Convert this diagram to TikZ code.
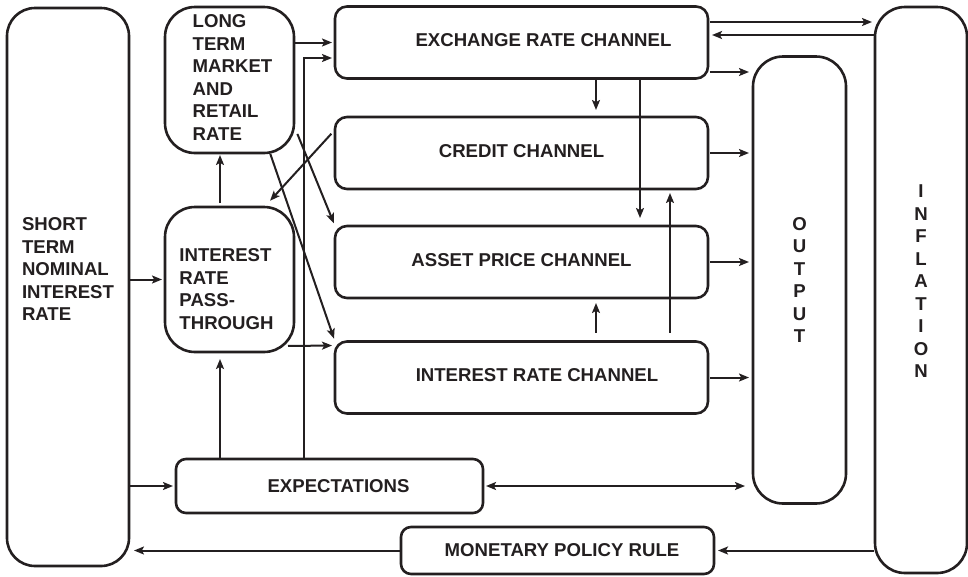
\documentclass[tikz,border=0pt]{standalone}
\usepackage{fontspec}
\setmainfont{Liberation Sans}
\usetikzlibrary{arrows.meta}
\definecolor{ink}{RGB}{35,31,32}
\tikzset{
	box/.style={draw, line width=2.6pt, inner sep=0pt, outer sep=0pt},
	chan/.style={box, rounded corners=12pt, minimum width=373pt, minimum height=72pt},
	lbl/.style={font=\bfseries\fontsize{18.6}{22.5}\selectfont, align=left, inner sep=0pt},
	arr/.style={line width=2pt, ->, shorten <=1pt, shorten >=3pt},
	>={Stealth[length=10pt,width=8pt,inset=2.2pt]}
}
\begin{document}
\begin{tikzpicture}[x=1pt,y=-1pt,color=ink]
	\useasboundingbox (0,0) rectangle (968,576);
	\node[box, rounded corners=28pt, minimum width=122pt, minimum height=558pt,
		label={[lbl, yshift=18pt]center:SHORT\\TERM\\NOMINAL\\INTEREST\\RATE}] (stn) at (68,287) {};
	\node[box, rounded corners=30pt, minimum width=129pt, minimum height=146pt,
		label={[lbl, xshift=3pt, yshift=2.5pt]center:LONG\\TERM\\MARKET\\AND\\RETAIL\\RATE}] (ltr) at (229.5,80) {};
	\node[box, rounded corners=30pt, minimum width=129pt, minimum height=145pt,
		label={[lbl, xshift=-3pt, yshift=-9.5pt]center:INTEREST\\RATE\\PASS-\\THROUGH}] (irpt) at (229.5,279.5) {};
	\node[chan, label={[lbl, xshift=22pt, yshift=2.5pt]center:EXCHANGE RATE CHANNEL}] (erc) at (521.5,42.5) {};
	\node[chan, label={[lbl, yshift=2pt]center:CREDIT CHANNEL}] (cc) at (521.5,153) {};
	\node[chan, label={[lbl, yshift=2pt]center:ASSET PRICE CHANNEL}] (apc) at (521.5,262) {};
	\node[chan, label={[lbl, xshift=15.5pt, yshift=2.5pt]center:INTEREST RATE CHANNEL}] (irc) at (521.5,377.5) {};
	\node[box, rounded corners=30pt, minimum width=93pt, minimum height=447pt,
		label={[lbl, align=center]center:O\\U\\T\\P\\U\\T}] (out) at (799.5,280) {};
	\node[box, rounded corners=30pt, minimum width=92pt, minimum height=566pt,
		label={[lbl, align=center, yshift=8.5pt]center:I\\N\\F\\L\\A\\T\\I\\O\\N}] (inf) at (921,290) {};
	\node[box, rounded corners=10pt, minimum width=307pt, minimum height=54pt,
		label={[lbl, xshift=9pt]center:EXPECTATIONS}] (exp) at (329.5,486) {};
	\node[box, rounded corners=10pt, minimum width=313pt, minimum height=47pt,
		label={[lbl, xshift=4.5pt]center:MONETARY POLICY RULE}] (mpr) at (557.5,550.5) {};

	\draw[arr] (stn.east |- irpt.west) -- (irpt.west);
	\draw[arr] (stn.east |- exp.west) -- (exp.west);
	\draw[arr, shorten <=4pt, shorten >=2pt] ([xshift=-9.5pt]irpt.north) -- ([xshift=-9.5pt]ltr.south);
	\draw[arr, shorten >=7pt] ([xshift=-109.5pt]exp.north) -- ([xshift=-9.5pt]irpt.south);
	\draw[arr] ([xshift=-25.5pt]exp.north) |- ([yshift=-15.5pt]erc.west);
	\draw[arr] (ltr.east |- erc.west) -- (erc.west);
	\draw[arr] ([shift={(3,-20)}]ltr.south east) -- (apc.north west);
	\draw[arr] ([xshift=40.5pt]ltr.south) -- (irc.north west);
	\draw[arr] ([shift={(-3,-20)}]cc.west) -- ([shift={(38.5,-4)}]irpt.north);
	\draw[arr, shorten >=1pt] ([shift={(-7,-6)}]irpt.south east) -- ([shift={(-2,4)}]irc.north west);

	\draw[arr, shorten >=7pt] ([xshift=74.5pt]erc.south) -- ([xshift=74.5pt]cc.north);
	\draw[arr, shorten >=8pt] ([xshift=118.5pt]erc.south) -- ([xshift=118.5pt]apc.north);
	\draw[arr, shorten <=9pt, shorten >=4pt] ([xshift=148.5pt]irc.north) -- ([xshift=148.5pt]cc.south);
	\draw[arr, shorten <=9pt, shorten >=5pt] ([xshift=74.5pt]irc.north) -- ([xshift=74.5pt]apc.south);

	\draw[arr, shorten <=2pt] (erc.east |- 0,22) -- (inf.west |- 0,22);
	\draw[arr, shorten >=4pt] (inf.west |- 0,35) -- (erc.east |- 0,35);
	\draw[arr, shorten <=2pt, shorten >=4pt] (erc.east |- 0,72) -- (out.west |- 0,72);
	\foreach \c in {cc,apc,irc}{
		\draw[arr, shorten <=2pt, shorten >=4pt] (\c.east) -- (out.west |- \c.east);
	}
	\draw[arr, <->, shorten <=3pt, shorten >=8pt] (exp.east) -- (out.west |- exp.east);
	\draw[arr, shorten >=4pt] (inf.west |- mpr.east) -- (mpr.east);
	\draw[arr, shorten >=5pt] (mpr.west) -- (stn.east |- mpr.west);
\end{tikzpicture}
\end{document}
